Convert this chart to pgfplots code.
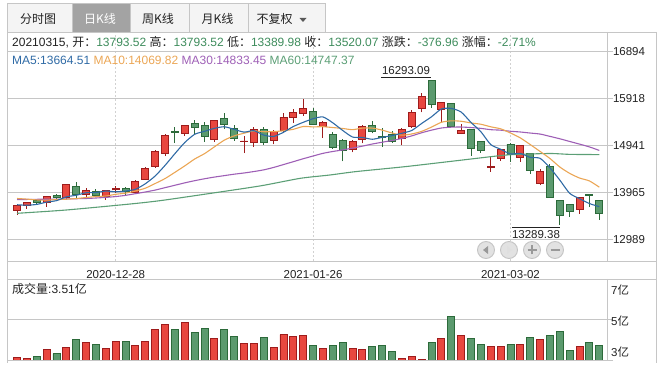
\documentclass[border=0pt]{standalone}
\usepackage{pgfplots}
\pgfplotsset{compat=1.18}
\usepackage{pgfplotstable}
\usepackage{fontspec}
\setmainfont{Liberation Sans}
\newfontfamily\cjk{Noto Sans CJK SC}
\definecolor{rfill}{HTML}{E8473F}
\definecolor{rdark}{HTML}{9E1C1C}
\definecolor{gfill}{HTML}{5B9A6E}
\definecolor{gdark}{HTML}{2C6A3A}
\definecolor{gridc}{HTML}{C6C6C6}
\definecolor{ma5c}{HTML}{2F6AA5}
\definecolor{ma10c}{HTML}{EBA655}
\definecolor{ma30c}{HTML}{9E5FB6}
\definecolor{ma60c}{HTML}{5C9F76}
\definecolor{valc}{HTML}{3E8C5C}
\definecolor{txt}{HTML}{222222}
\definecolor{tabbg}{HTML}{F4F4F4}
\definecolor{tabsel}{HTML}{A3A3A3}
\definecolor{btnf}{HTML}{E2E2E2}
\definecolor{btnd}{HTML}{C4C4C4}
\newcommand\fs{\fontsize{11.5}{13}\selectfont}
\newcommand\fl{\fontsize{12}{14}\selectfont}

\pgfplotstableread{
i o h l c
1 13585 13696 13502 13682
2 13696 13772 13627 13751
4 13751 13897 13668 13876
6 13862 14139 13814 14125
8 13918 14063 13876 14008
10 13883 14020 13814 14008
11 14014 14104 13952 14049
13 13966 14222 13952 14195
14 14229 14485 14215 14465
15 14499 14853 14479 14818
16 14773 15168 14718 15148
18 15189 15365 15134 15355
21 15058 15473 15016 15459
24 15023 15127 14780 15030
25 15002 15314 14905 15272
27 15044 15252 14961 15231
28 15245 15612 15196 15522
29 15522 15702 15404 15626
30 15598 15896 15556 15709
32 15328 15446 15099 15418
35 14850 15044 14794 15023
36 15065 15355 14981 15335
40 15085 15293 14940 15265
41 15335 15674 15300 15626
42 15702 16027 15626 15958
44 15695 15847 15432 15833
46 15185 15393 15171 15247
49 14478 14707 14395 14499
50 14659 14866 14617 14846
52 14693 14950 14596 14936
54 14146 14451 14111 14402
58 13613 13876 13516 13855
}\redc

\pgfplotstableread{
i o h l c
3 13800 13810 13700 13751
5 13897 13938 13827 13848
7 14084 14174 13855 13911
9 13987 14035 13862 13897
12 14042 14077 13904 13987
17 15231 15314 14988 15210
19 15397 15466 15175 15314
20 15348 15418 15009 15127
22 15501 15612 15279 15376
23 15293 15362 15030 15085
26 15272 15314 14954 15002
31 15646 15709 15362 15376
33 15175 15224 14871 14905
34 15044 15065 14607 14836
37 15348 15438 15189 15231
38 15120 15293 14905 15099
39 15168 15245 14995 15023
43 16291 16293.09 15723 15792
45 15813 15826 15314 15328
47 15268 15268 14721 14880
48 15019 15033 14783 14825
51 14963 14984 14603 14756
53 14776 14790 14347 14409
55 14506 14562 13855 13855
56 13800 13814 13289.38 13481
57 13710 13730 13453 13564
59 13911 13911 13654 13897
60 13793.52 13793.52 13389.98 13520.07
}\greenc

\pgfplotstableread{
i v
1 3.11
2 3.07
4 3.50
6 3.60
8 3.85
10 3.55
11 3.89
13 3.70
14 3.89
15 4.48
16 4.72
18 4.82
21 4.04
24 3.80
25 3.80
27 3.60
28 4.24
29 4.14
30 4.19
32 3.55
35 3.55
36 3.50
40 3.07
41 3.16
42 3.02
44 4.04
46 4.19
49 3.65
50 3.65
52 3.75
54 3.99
58 3.65
}\redv

\pgfplotstableread{
i v
3 3.16
5 3.31
7 3.99
9 3.76
12 3.89
17 4.48
19 4.33
20 4.53
22 4.48
23 4.14
26 4.09
31 3.70
33 3.70
34 3.85
37 3.65
38 3.70
39 3.41
43 3.85
45 5.11
47 4.04
48 3.75
51 3.75
53 4.09
55 4.19
56 4.38
57 3.46
59 3.85
60 3.70
}\greenv

\pgfplotstableread{
i m5 m10 m30
1 13705 13835 13815
2 13695 13822 13815
3 13712 13805 13818
4 13760 13800 13820
5 13790 13812 13822
6 13870 13820 13825
7 13902 13834 13830
8 13954 13855 13835
9 13958 13875 13845
10 13990 13886 13858
11 13975 13922 13875
12 13990 13946 13900
13 14027 13990 13935
14 14141 14049 13970
15 14303 14146 14010
16 14523 14249 14060
17 14767 14379 14110
18 14999 14513 14160
19 15169 14655 14205
20 15231 14767 14245
21 15293 14908 14280
22 15326 15047 14310
23 15272 15136 14340
24 15215 15192 14365
25 15244 15238 14395
26 15153 15223 14430
27 15124 15225 14480
28 15211 15242 14540
29 15331 15273 14600
30 15418 15331 14661
31 15493 15323 14718
32 15530 15327 14773
33 15407 15309 14812
34 15249 15290 14844
35 15112 15265 14883
36 15103 15298 14923
37 15066 15298 14967
38 15105 15256 15004
39 15142 15196 15041
40 15191 15151 15083
41 15249 15176 15136
42 15394 15230 15201
43 15533 15319 15255
44 15695 15419 15300
45 15707 15449 15317
46 15632 15440 15320
47 15416 15405 15309
48 15223 15378 15292
49 14956 15325 15265
50 14859 15283 15255
51 14761 15196 15232
52 14772 15094 15217
53 14689 14956 15195
54 14670 14813 15174
55 14472 14666 15126
56 14217 14489 15076
57 13942 14357 15020
58 13831 14260 14965
59 13730 14200 14907
60 13664.51 14069.82 14833.45
}\ma

\pgfplotstableread{
x m60
1 13527
6 13596
12.5 13721
15.5 13790
19.5 13908
25.6 14095
29.7 14254
32.7 14323
35.3 14393
40.3 14496
45.4 14617
50.4 14735
53 14760
55.2 14770
57 14752
60 14747.37
}\mab

\pgfplotsset{
  pax/.style={at={(8pt,114pt)}, anchor=south west, scale only axis,
    width=599pt, height=229pt, xmin=0.088, xmax=60.78, ymin=12536, ymax=17295,
    scaled y ticks=false, scaled x ticks=false},
  vax/.style={at={(8pt,15pt)}, anchor=south west, scale only axis,
    width=599pt, height=81pt, xmin=0.088, xmax=60.78, ymin=3, ymax=6.95,
    scaled y ticks=false, scaled x ticks=false},
}

\begin{document}
\begin{tikzpicture}[x=1pt,y=1pt]
\useasboundingbox (0,0) rectangle (665,375);

% tabs
\draw[gridc, fill=tabbg, line width=0.8pt] (7.5,343) rectangle (72,371.5);
\draw[gridc, fill=tabsel, line width=0.8pt] (72,343) rectangle (130,371.5);
\draw[gridc, fill=tabbg, line width=0.8pt] (130,343) rectangle (189,371.5);
\draw[gridc, fill=tabbg, line width=0.8pt] (189,343) rectangle (248,371.5);
\draw[gridc, fill=tabbg, line width=0.8pt] (248,343) rectangle (325,371.5);
\node[font=\fl\cjk, text=txt] at (38,356.5) {分时图};
\node[font=\fl\cjk, text=white] at (100,356.5) {日K线};
\node[font=\fl\cjk, text=txt] at (158,356.5) {周K线};
\node[font=\fl\cjk, text=txt] at (217.5,356.5) {月K线};
\node[font=\fl\cjk, text=txt] at (274.5,356.5) {不复权};
\fill[txt!75] (299.5,357) -- (306.5,357) -- (303,353) -- cycle;

% price axis: grid, ticks, wicks
\begin{axis}[pax,
  axis line style={draw=none},
  xtick={11,31,51},
  xticklabels={2020-12-28,2021-01-26,2021-03-02},
  xtick pos=bottom,
  xtick style={draw=none},
  xticklabel style={font=\fs, text=txt, yshift=0pt},
  xmajorgrids,
  x grid style={color=gridc!80, dash pattern=on 2pt off 2pt, line width=0.7pt},
  ytick={12989,13965,14941,15918,16894},
  yticklabels={12989,13965,14941,15918,16894},
  ytick pos=right,
  yticklabel pos=right,
  ymajorgrids,
  y grid style={color=gridc, line width=0.9pt},
  ytick style={color=gridc, line width=0.9pt},
  tick align=outside,
  major tick length=6pt,
  yticklabel style={font=\fs, text=txt, xshift=-3.5pt},
  clip mode=individual,
]
\addplot[draw=none, forget plot, error bars/.cd, y dir=plus, y explicit, error mark=none,
  error bar style={draw=rdark, line width=1pt}]
  table[x=i, y=l, y error plus expr={\thisrow{h}-\thisrow{l}}] {\redc};
\addplot[draw=none, forget plot, error bars/.cd, y dir=plus, y explicit, error mark=none,
  error bar style={draw=gdark, line width=1pt}]
  table[x=i, y=l, y error plus expr={\thisrow{h}-\thisrow{l}}] {\greenc};
\end{axis}

% red bodies
\begin{axis}[pax, hide axis, ybar stacked, bar width=7pt]
\addplot[draw=none, fill=none] table[x=i, y expr={min(\thisrow{o},\thisrow{c})}] {\redc};
\addplot[fill=rfill, draw=rdark, line width=0.9pt] table[x=i, y expr={abs(\thisrow{c}-\thisrow{o})}] {\redc};
\end{axis}

% green bodies
\begin{axis}[pax, hide axis, ybar stacked, bar width=7pt]
\addplot[draw=none, fill=none] table[x=i, y expr={min(\thisrow{o},\thisrow{c})}] {\greenc};
\addplot[fill=gfill, draw=gdark, line width=0.9pt] table[x=i, y expr={abs(\thisrow{c}-\thisrow{o})}] {\greenc};
\end{axis}

% moving averages
\begin{axis}[pax, hide axis]
\addplot[ma60c, line width=1.1pt, smooth, tension=0.4] table[x=x, y=m60] {\mab};
\addplot[ma30c, line width=1.1pt, smooth, tension=0.4] table[x=i, y=m30] {\ma};
\addplot[ma10c, line width=1.1pt, smooth, tension=0.4] table[x=i, y=m10] {\ma};
\addplot[ma5c, line width=1.1pt, smooth, tension=0.4] table[x=i, y=m5] {\ma};
\end{axis}

% volume
\begin{axis}[vax,
  axis line style={draw=none},
  xtick=\empty,
  ytick={3,5}, yticklabels={},
  ytick pos=right,
  ymajorgrids,
  y grid style={color=gridc, line width=0.9pt},
  ytick style={color=gridc, line width=0.9pt},
  tick align=outside, major tick length=6pt,
]
\addplot[ybar, bar width=7pt, bar shift=0pt, fill=rfill, draw=rdark, line width=0.9pt] table[x=i, y=v] {\redv};
\addplot[ybar, bar width=7pt, bar shift=0pt, fill=gfill, draw=gdark, line width=0.9pt] table[x=i, y=v] {\greenv};
\end{axis}

% frame
\draw[gridc, line width=0.9pt] (7.5,343) -- (656,343);
\draw[gridc, line width=0.9pt] (7.5,343) -- (7.5,12);
\draw[gridc, line width=0.9pt] (656,343) -- (656,12);
\draw[gridc, line width=0.9pt] (607,343) -- (607,114);
\draw[gridc, line width=0.9pt] (607,96) -- (607,15);
\draw[gridc, line width=0.9pt] (7.5,114) -- (656,114);
\draw[gridc, line width=0.9pt] (7.5,96) -- (656,96);

% info text
\node[anchor=base west, inner sep=0, font=\fl, text=txt] at (12,328.5) {20210315, {\cjk 开：}\textcolor{valc}{13793.52} {\cjk 高：}\textcolor{valc}{13793.52} {\cjk 低：}\textcolor{valc}{13389.98} {\cjk 收：}\textcolor{valc}{13520.07} {\cjk 涨跌：}\textcolor{valc}{-376.96} {\cjk 涨幅：}\textcolor{valc}{-2.71\%}};
\node[anchor=base west, inner sep=0, font=\fl] at (12,310.5) {\textcolor{ma5c}{MA5:13664.51} \textcolor{ma10c}{MA10:14069.82} \textcolor{ma30c}{MA30:14833.45} \textcolor{ma60c}{MA60:14747.37}};

% extreme annotations
\draw[txt, line width=0.8pt] (381,298) -- (431,298);
\node[anchor=base, inner sep=0, font=\fs, text=txt] at (406,300) {16293.09};
\draw[txt, line width=0.8pt] (512,147.3) -- (560,147.3);
\node[anchor=base, inner sep=0, font=\fs, text=txt] at (536,136) {13289.38};

% nav buttons
\foreach \x in {486,509,532,555} \draw[btnd, fill=btnf, line width=0.9pt] (\x,125) circle (8.5);
\fill[gray!80] (483,125) -- (488,129) -- (488,121) -- cycle;
\fill[gray!25] (512,125) -- (507,129) -- (507,121) -- cycle;
\draw[gray!80, line width=1.6pt] (527.5,125) -- (536.5,125) (532,120.5) -- (532,129.5);
\draw[gray!80, line width=1.6pt] (550.5,125) -- (559.5,125);

% volume labels
\node[anchor=base west, inner sep=0, font=\fl, text=txt] at (12,81.5) {{\cjk 成交量}:3.51{\cjk 亿}};
\node[anchor=base west, inner sep=0, font=\fs, text=txt] at (611,80.5) {7{\cjk 亿}};
\node[anchor=base west, inner sep=0, font=\fs, text=txt] at (611,49.5) {5{\cjk 亿}};
\node[anchor=base west, inner sep=0, font=\fs, text=txt] at (611,18) {3{\cjk 亿}};
\end{tikzpicture}
\end{document}
